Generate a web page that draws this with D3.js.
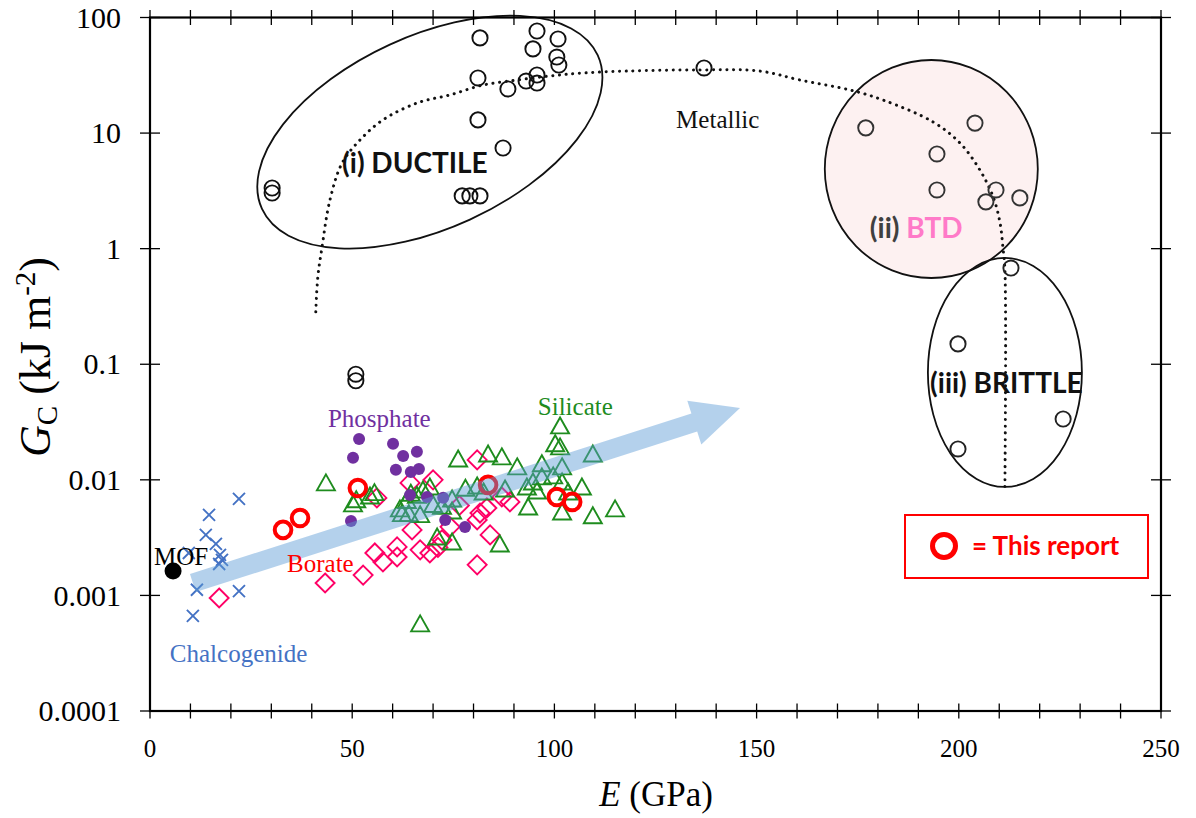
<!DOCTYPE html>
<html>
<head>
<meta charset="utf-8">
<script src="https://cdn.jsdelivr.net/npm/d3@7"></script>
<style>
  html, body { margin: 0; padding: 0; background: #fff; }
  svg { display: block; }
</style>
</head>
<body>
<svg id="chart" width="1196" height="818"></svg>
<script>
// ---- data: [E (GPa), Gc (kJ m^-2)] ----
const ductile = [
  [30.2, 3.35], [30.2, 3.03], [77.2, 2.86], [79.1, 2.86], [81.6, 2.86],
  [87.3, 7.43], [81.1, 13.0], [81.1, 30.0], [81.6, 66.6], [88.5, 24.1],
  [93.0, 28.2], [95.7, 31.8], [95.7, 27.1], [94.7, 53.5], [95.7, 76.4],
  [100.9, 65.2], [100.6, 45.5], [101.1, 38.8]
];
const metallicOther = [[137.0, 36.6], [50.9, 0.082], [50.9, 0.072]];
const btd = [[177.0, 11.1], [204.0, 12.2], [194.6, 6.6], [194.6, 3.22], [209.2, 3.22], [206.7, 2.54], [215.1, 2.75]];
const brittle = [[212.9, 0.68], [199.8, 0.15], [199.8, 0.0185], [225.8, 0.0336]];

const chalcogenide = [
  [14.6, 0.00497], [22.0, 0.00684], [13.8, 0.00334], [16.3, 0.00279], [17.3, 0.00224],
  [17.8, 0.00203], [17.1, 0.00187], [11.6, 0.00112], [22.0, 0.00109], [10.6, 0.000665],
  [9.6, 0.00233]
];
const mof = [[5.7, 0.00163]];
const borate = [
  [17.1, 0.00095], [43.3, 0.00128], [52.7, 0.0015], [55.6, 0.00233], [57.6, 0.00195],
  [61.1, 0.00263], [61.1, 0.00215], [64.8, 0.00369], [66.8, 0.00248], [69.2, 0.00233],
  [56.1, 0.00697], [64.3, 0.0094], [70.0, 0.0100], [74.2, 0.00392], [72.2, 0.00302],
  [80.9, 0.01486], [80.9, 0.0045], [81.6, 0.00516], [83.3, 0.00571], [84.1, 0.00334],
  [80.9, 0.00184], [87.0, 0.00711], [89.0, 0.00644], [71.2, 0.0026], [76.5, 0.0060]
];
const silicate = [
  [43.5, 0.00923], [50.2, 0.00607], [51.0, 0.0066], [54.4, 0.00711], [55.5, 0.0076],
  [76.2, 0.01486], [66.8, 0.000556],
  [61.8, 0.0055], [63.5, 0.0065], [64.5, 0.0075], [66.0, 0.0072], [67.5, 0.0080],
  [69.2, 0.0085], [70.0, 0.0060], [72.2, 0.0058], [74.7, 0.0067], [62.3, 0.0050],
  [64.0, 0.0050], [66.8, 0.0049],
  [83.6, 0.0164], [87.0, 0.0155], [90.8, 0.0127], [96.9, 0.0135], [100.2, 0.0201],
  [101.4, 0.0287], [101.4, 0.0189], [101.9, 0.0127], [109.5, 0.0164], [106.8, 0.0085],
  [96.9, 0.0104], [94.7, 0.0094], [93.2, 0.0085], [95.7, 0.00785], [99.7, 0.0106],
  [101.9, 0.0094], [103.4, 0.0077], [93.5, 0.00571], [101.9, 0.00516], [109.5, 0.00479],
  [115.0, 0.0055], [80.9, 0.00867], [87.8, 0.00817], [74.7, 0.00527], [71.0, 0.00314],
  [74.7, 0.00284], [86.5, 0.00273], [78.0, 0.0083], [82.5, 0.0077]
];
const phosphate = [
  [51.7, 0.0226], [50.2, 0.0155], [60.1, 0.0205], [62.6, 0.0161], [66.0, 0.0175],
  [60.8, 0.0122], [64.5, 0.0117], [66.5, 0.0124], [49.7, 0.0044], [64.3, 0.0074],
  [68.5, 0.0071], [72.5, 0.0070], [73.0, 0.0045], [77.9, 0.0039]
];
const thisReport = [[32.9, 0.00369], [37.1, 0.00468], [51.4, 0.0085], [83.6, 0.00904], [100.6, 0.0071], [104.4, 0.00644]];

// hand-drawn guide through the metallic data
const metallicTrend = [
  [41.0, 0.284], [41.5, 0.569], [42.5, 1.01], [44.5, 2.64], [47.5, 5.5], [51.9, 8.7],
  [57.6, 13], [66.0, 18.2], [74.2, 21.4], [82.3, 26], [90.8, 28.8], [98.9, 31.2],
  [107.1, 33.1], [118, 34.4], [136, 35.2], [150.8, 34.4], [160.7, 28.8], [173.1, 23.6],
  [181.3, 19.3], [193.6, 12.5], [200.3, 8.2], [205.2, 4.8], [208.5, 2.8], [210.2, 1.67],
  [210.9, 1.03], [211.4, 0.655], [211.4, 0.0082]
];
// trend arrow: tail and tip
const trendArrow = [[10.6, 0.00128], [145.9, 0.0419]];

const xTickValues = [0, 50, 100, 150, 200, 250];
const xMinorTicks = d3.range(0, 251, 10);
const yTickValues = [0.0001, 0.001, 0.01, 0.1, 1, 10, 100];
const yTickLabels = ["0.0001", "0.001", "0.01", "0.1", "1", "10", "100"];

// ---- layout ----
const svg = d3.select("#chart");
const plotL = 150, plotR = 1161, plotT = 17.5, plotB = 711;
const x = d3.scaleLinear().domain([0, 250]).range([plotL, plotR]);
const y = d3.scaleLog().domain([0.0001, 100]).range([plotB, plotT]);

const serif = "'Liberation Serif', 'Times New Roman', serif";
const sans = "Lato, 'Open Sans', sans-serif";

// ---- region outlines ----
const regions = svg.append("g");
// (i) ductile
regions.append("ellipse")
  .attr("cx", 0).attr("cy", 0).attr("rx", 184.6).attr("ry", 96.2)
  .attr("transform", `translate(${x(69.2)},${y(10.2)}) rotate(-24.6)`)
  .attr("fill", "none").attr("stroke", "#111").attr("stroke-width", 1.8);
// (ii) BTD
regions.append("ellipse")
  .attr("cx", x(193.2)).attr("cy", y(4.89)).attr("rx", 106.5).attr("ry", 109)
  .attr("fill", "#fdf1f1").attr("stroke", "#111").attr("stroke-width", 1.8);
// (iii) brittle
regions.append("ellipse")
  .attr("cx", x(211.4)).attr("cy", y(0.0849)).attr("rx", 77).attr("ry", 114.5)
  .attr("fill", "none").attr("stroke", "#111").attr("stroke-width", 1.8);

// dotted guide line
svg.append("path")
  .datum(metallicTrend)
  .attr("d", d3.line().x(d => x(d[0])).y(d => y(d[1])).curve(d3.curveCatmullRom.alpha(0.5)))
  .attr("fill", "none").attr("stroke", "#111").attr("stroke-width", 3)
  .attr("stroke-linecap", "round").attr("stroke-dasharray", "0.1 6.6");

// ---- axes frame ----
const axes = svg.append("g").attr("stroke", "#000");
axes.append("rect")
  .attr("x", plotL).attr("y", plotT).attr("width", plotR - plotL).attr("height", plotB - plotT)
  .attr("fill", "none").attr("stroke-width", 2.2);
// x ticks, bottom and top, crossing the frame
xMinorTicks.forEach(v => {
  [plotB, plotT].forEach(yy => {
    axes.append("line").attr("x1", x(v)).attr("x2", x(v))
      .attr("y1", yy - 7.5).attr("y2", yy + 7.5).attr("stroke-width", 1.3);
  });
});
// y ticks, left and right
yTickValues.forEach(v => {
  [plotL, plotR].forEach(xx => {
    axes.append("line").attr("x1", xx - 10).attr("x2", xx + 10)
      .attr("y1", y(v)).attr("y2", y(v)).attr("stroke-width", 1.3);
  });
});

// tick labels
svg.append("g").selectAll("text").data(xTickValues).join("text")
  .attr("x", d => x(d)).attr("y", 757)
  .attr("text-anchor", "middle")
  .attr("font-family", serif).attr("font-size", 25).attr("fill", "#000")
  .text(d => d);
svg.append("g").selectAll("text").data(yTickValues).join("text")
  .attr("x", 121).attr("y", d => y(d)).attr("dy", "0.34em")
  .attr("text-anchor", "end")
  .attr("font-family", serif).attr("font-size", 30).attr("fill", "#000")
  .text((d, i) => yTickLabels[i]);

// axis titles
const xt = svg.append("text")
  .attr("x", 656).attr("y", 806).attr("text-anchor", "middle")
  .attr("font-family", serif).attr("font-size", 35).attr("fill", "#000");
xt.append("tspan").attr("font-style", "italic").text("E");
xt.append("tspan").text(" (GPa)");

const yt = svg.append("text")
  .attr("transform", `translate(50,357) rotate(-90)`)
  .attr("text-anchor", "middle")
  .attr("font-family", serif).attr("font-size", 44).attr("fill", "#000");
yt.append("tspan").attr("font-style", "italic").text("G");
yt.append("tspan").attr("font-size", 29).attr("dy", 7).text("C");
yt.append("tspan").attr("dy", -7).text(" (kJ m");
yt.append("tspan").attr("font-size", 29).attr("dy", -15).text("-2");
yt.append("tspan").attr("dy", 15).text(")");

// ---- markers ----
const marks = svg.append("g");
function circles(data, r, stroke, sw, fill) {
  marks.append("g").selectAll("circle").data(data).join("circle")
    .attr("cx", d => x(d[0])).attr("cy", d => y(d[1])).attr("r", r)
    .attr("fill", fill).attr("stroke", stroke).attr("stroke-width", sw);
}
circles(ductile, 7.6, "#111", 1.9, "none");
circles(metallicOther, 7.6, "#111", 1.9, "none");
circles(btd, 7.6, "#333", 1.9, "none");
circles(brittle, 7.6, "#222", 1.9, "none");

// chalcogenide crosses
marks.append("g").selectAll("path").data(chalcogenide).join("path")
  .attr("d", d => { const cx = x(d[0]), cy = y(d[1]), s = 6;
    return `M${cx - s},${cy - s}L${cx + s},${cy + s}M${cx - s},${cy + s}L${cx + s},${cy - s}`; })
  .attr("stroke", "#4472C4").attr("stroke-width", 1.9).attr("fill", "none");

// borate diamonds
marks.append("g").selectAll("path").data(borate).join("path")
  .attr("d", d => { const cx = x(d[0]), cy = y(d[1]), s = 9.5;
    return `M${cx},${cy - s}L${cx + s},${cy}L${cx},${cy + s}L${cx - s},${cy}Z`; })
  .attr("stroke", "#FF0066").attr("stroke-width", 1.9).attr("fill", "none");

// silicate triangles
marks.append("g").selectAll("path").data(silicate).join("path")
  .attr("d", d => { const cx = x(d[0]), cy = y(d[1]);
    return `M${cx},${cy - 9.5}L${cx + 9},${cy + 6.5}L${cx - 9},${cy + 6.5}Z`; })
  .attr("stroke", "#1E8C1E").attr("stroke-width", 1.9).attr("fill", "none");

// phosphate dots
circles(phosphate, 6, "none", 0, "#7030A0");
// MOF
circles(mof, 8.5, "none", 0, "#000");
// this report
circles(thisReport, 8.3, "#FF0000", 4, "none");

// ---- trend arrow ----
(function () {
  const p0 = [x(trendArrow[0][0]), y(trendArrow[0][1])];
  const p1 = [x(trendArrow[1][0]), y(trendArrow[1][1])];
  const dx = p1[0] - p0[0], dy = p1[1] - p0[1], L = Math.hypot(dx, dy);
  const u = [dx / L, dy / L], n = [-u[1], u[0]];
  const hw = 9.5, headW = 23, headL = 48;
  const neck = [p1[0] - u[0] * headL, p1[1] - u[1] * headL];
  const pt = (b, k) => [b[0] + n[0] * k, b[1] + n[1] * k];
  const poly = [pt(p0, hw), pt(neck, hw), pt(neck, headW), p1, pt(neck, -headW), pt(neck, -hw), pt(p0, -hw)];
  svg.append("path")
    .attr("d", "M" + poly.map(p => p.join(",")).join("L") + "Z")
    .attr("fill", "#5B9BD5").attr("fill-opacity", 0.46);
})();

// ---- text labels ----
const labels = svg.append("g");
function label(txt, e, g, font, size, color, weight) {
  return labels.append("text").attr("x", x(e)).attr("y", y(g))
    .attr("font-family", font).attr("font-size", size).attr("fill", color)
    .attr("font-weight", weight || "normal").text(txt);
}
label("(i) DUCTILE", 47.5, 4.52, sans, 28, "#111", "bold");
const btdLabel = labels.append("text").attr("x", x(178.0)).attr("y", y(1.24))
  .attr("font-family", sans).attr("font-size", 28).attr("font-weight", "bold");
btdLabel.append("tspan").attr("fill", "#404040").text("(ii) ");
btdLabel.append("tspan").attr("fill", "#FF7AC8").text("BTD");
label("(iii) BRITTLE", 192.9, 0.0565, sans, 28, "#111", "bold");
label("Metallic", 130.1, 11.07, serif, 25, "#111");
label("Phosphate", 44.0, 0.0287, serif, 25, "#7030A0");
label("Silicate", 95.9, 0.0364, serif, 25, "#1E8C1E");
label("Borate", 33.9, 0.0016, serif, 25, "#FF0000");
label("MOF", 1.0, 0.00184, serif, 25, "#000");
label("Chalcogenide", 4.9, 0.000266, serif, 25, "#4472C4");

// ---- legend ----
const lg = svg.append("g").attr("transform", "translate(905,515)");
lg.append("rect").attr("width", 243).attr("height", 63)
  .attr("fill", "#fff").attr("stroke", "#FF0000").attr("stroke-width", 2);
lg.append("circle").attr("cx", 39).attr("cy", 31).attr("r", 11.5)
  .attr("fill", "none").attr("stroke", "#FF0000").attr("stroke-width", 5);
lg.append("text").attr("x", 67).attr("y", 40)
  .attr("font-family", sans).attr("font-size", 26).attr("font-weight", "bold")
  .attr("fill", "#FF0000").text("= This report");
</script>
</body>
</html>
